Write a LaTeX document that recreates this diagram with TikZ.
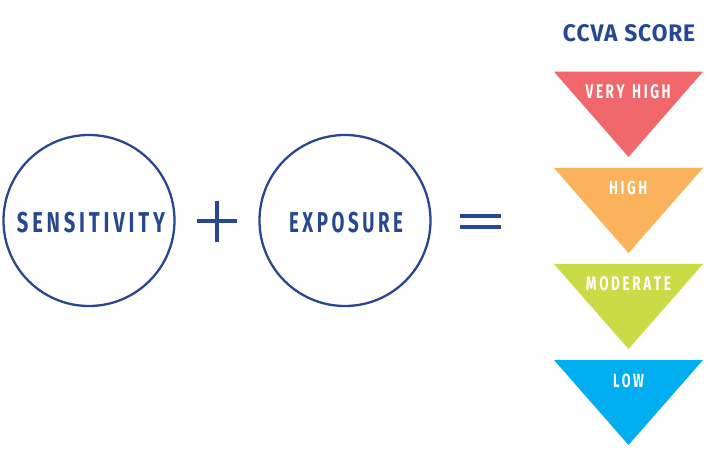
\documentclass[tikz,border=0pt]{standalone}
\usepackage{fontspec}
\setmainfont{Fira Sans}
\usepackage{graphicx}
\definecolor{navy}{HTML}{274891}
\definecolor{tred}{HTML}{F0686C}
\definecolor{torange}{HTML}{FBB25C}
\definecolor{tgreen}{HTML}{CADB48}
\definecolor{tblue}{HTML}{00AEEF}
\def\trk{0.19em\relax}
\def\spc#1{\spcaux#1\relax}
\def\spcaux#1#2{#1\ifx#2\relax\else\kern\trk\expandafter\spcaux\expandafter#2\fi}
\newcommand\fitbox[3]{\resizebox{#1pt}{#2pt}{#3}}
\tikzset{
  ring/.style={draw=navy, line width=2.3pt},
  opline/.style={draw=navy, line width=3.3pt},
  lab/.style={inner sep=0pt, outer sep=0pt, anchor=center},
}
\begin{document}
\begin{tikzpicture}[x=1pt,y=-1pt]
\useasboundingbox (0,0) rectangle (710,473);
% circles
\node[ring, circle, minimum size=171pt, inner sep=0pt] (c1) at (89,220.5) {};
\node[ring, circle, minimum size=171pt, inner sep=0pt] (c2) at (345,220.5) {};
\node[lab, text=navy] (sens) at (91,222.5) {\fitbox{148}{20.4}{\bfseries\spc{SENSITIVITY}}};
\node[lab, text=navy] (expo) at (346,222.5) {\fitbox{114}{20.4}{\bfseries\spc{EXPOSURE}}};
% plus
\coordinate (pl) at (197,221); \coordinate (pr) at (237,221);
\coordinate (pt) at (217,201); \coordinate (pb) at (217,242);
\draw[opline] (pl) -- (pr);
\draw[opline] (pt) -- (pb);
% equals
\coordinate (e1l) at (460,216); \coordinate (e1r) at (501,216);
\coordinate (e2l) at (460,227); \coordinate (e2r) at (501,227);
\draw[opline] (e1l) -- (e1r);
\draw[opline] (e2l) -- (e2r);
% title
\node[lab, text=navy] (title) at (629,33.5) {\fitbox{132}{17}{\bfseries\def\trk{0.03em\relax}\spc{CCVA}\kern0.3em\spc{SCORE}}};
% triangles
\fill[tred]    (554,71.7) -- (703,71.7) -- (628.5,157) -- cycle;
\fill[torange] (554,168)  -- (703,168)  -- (628.5,253) -- cycle;
\fill[tgreen]  (554,264)  -- (703,264)  -- (628.5,349) -- cycle;
\fill[tblue]   (554,360)  -- (703,360)  -- (628.5,445) -- cycle;
\node[lab, text=white] (vh) at (628.2,91.3) {\fitbox{85}{14}{\bfseries\spc{VERY}\kern0.55em\spc{HIGH}}};
\node[lab, text=white] (hi) at (628.2,188) {\fitbox{38}{13.5}{\bfseries\spc{HIGH}}};
\node[lab, text=white] (mo) at (628.5,284) {\fitbox{85}{14}{\bfseries\spc{MODERATE}}};
\node[lab, text=white] (lo) at (628.5,380.5) {\fitbox{31}{13.5}{\bfseries\spc{LOW}}};
\end{tikzpicture}
\end{document}
